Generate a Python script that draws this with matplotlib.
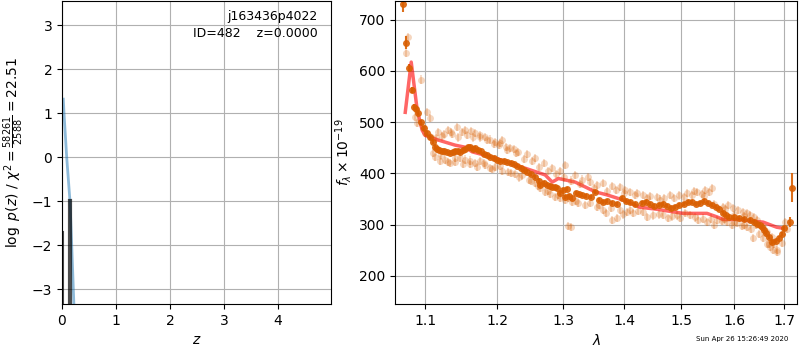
import numpy as np
import matplotlib.pyplot as plt

# left panel: log p(z) curve and chi2 line
z_line = [0.024, 0.037, 0.087, 0.148, 0.18, 0.22]
logp_line = [1.32, 1.0, 0.0, -1.0, -2.0, -3.34]
z_bars = [0.01, 0.155]
bar_top = [-1.7, -1.0]

obj_name = 'j163436p4022'
obj_info = 'ID=482    z=0.0000'

# right panel: binned spectrum (dark), individual pixels (light), model
lam_bin = [1.071, 1.0745, 1.079, 1.082, 1.085, 1.088, 1.091, 1.094, 1.098, 1.103,
           1.110, 1.116, 1.122, 1.130, 1.138, 1.145, 1.152, 1.159, 1.166, 1.173,
           1.181, 1.190, 1.200, 1.210, 1.220, 1.230, 1.240, 1.250, 1.257, 1.265,
           1.270, 1.280, 1.283, 1.290, 1.300, 1.3034, 1.310, 1.320, 1.330, 1.345,
           1.352, 1.365, 1.380, 1.397, 1.41, 1.43, 1.445, 1.46, 1.475, 1.49,
           1.505, 1.52, 1.535, 1.55, 1.565, 1.578, 1.59, 1.61, 1.63, 1.645,
           1.655, 1.663, 1.676, 1.69, 1.700, 1.713, 1.716,
           1.106, 1.113, 1.119, 1.126, 1.134, 1.141, 1.148, 1.155, 1.162, 1.169,
           1.177, 1.185, 1.195, 1.205, 1.215, 1.225, 1.235, 1.245, 1.262, 1.275,
           1.287, 1.295, 1.306, 1.315, 1.325, 1.337, 1.358, 1.372, 1.388, 1.403,
           1.418, 1.437, 1.452, 1.467, 1.482, 1.497, 1.512, 1.527, 1.542, 1.557,
           1.571, 1.584, 1.600, 1.620, 1.638, 1.650, 1.659, 1.668, 1.683, 1.695]
flux_bin = [730, 655, 605, 563, 530, 525, 518, 500, 488, 478,
            462, 447, 444, 442, 441, 443, 446, 451, 448, 446,
            438, 432, 426, 424, 420, 415, 406, 398, 393, 377,
            381, 376, 373, 372, 368, 354, 356, 362, 358, 354,
            363, 344, 342, 352, 345, 342, 340, 338, 336, 334,
            340, 344, 342, 342, 335, 322, 315, 313, 309, 302,
            296, 284, 266, 274, 293, 305, 372,
            470, 452, 445, 443, 440, 444, 442, 447, 452, 449,
            444, 436, 429, 425, 422, 418, 411, 402, 386, 378,
            374, 362, 370, 352, 360, 356, 348, 346, 340, 347,
            341, 344, 336, 341, 333, 338, 345, 340, 346, 339,
            330, 318, 314, 311, 306, 299, 290, 276, 268, 282]
err_bin = [15, 12, 8, 6, 5, 5, 5, 5, 5, 5] + [4] * 54 + [5, 9, 28] + [4] * 50

lam_pix = [1.0750, 1.0776, 1.0947, 1.0867, 1.0894, 1.1067, 1.1027, 1.0973, 1.1000, 1.1080,
           1.1175, 1.1230, 1.1311, 1.1370, 1.1435, 1.1500, 1.1574, 1.1630, 1.1687, 1.1760,
           1.1830, 1.1900, 1.1974, 1.2030, 1.2076, 1.2130, 1.2194, 1.2250, 1.2312, 1.2440,
           1.2569, 1.2700, 1.2832, 1.2950, 1.3034, 1.3193, 1.3300, 1.3403,
           1.1134, 1.1200, 1.1270, 1.1340, 1.1407, 1.1480, 1.1546, 1.1620, 1.1687, 1.1760,
           1.1830, 1.1900, 1.1974, 1.2080, 1.2164, 1.2260, 1.2372, 1.2470, 1.2569, 1.2650,
           1.2722, 1.2800, 1.2877, 1.2950, 1.3034, 1.3140, 1.3241,
           1.3436, 1.3540, 1.3649, 1.3800, 1.3933, 1.4020, 1.4103, 1.4220, 1.4327, 1.4450,
           1.4572, 1.4690, 1.4804, 1.4960, 1.5112, 1.5200, 1.5296, 1.5380, 1.5445, 1.5510,
           1.5576, 1.5786, 1.5880, 1.5978, 1.6080, 1.6173, 1.6250, 1.6311, 1.6380, 1.6450,
           1.6570, 1.6650, 1.6752, 1.6800, 1.6854, 1.6957, 1.7018, 1.7050,
           1.3436, 1.3540, 1.3649, 1.3780, 1.3933, 1.4050, 1.4155, 1.4240, 1.4327, 1.4500,
           1.4678, 1.4830, 1.4984, 1.5080, 1.5167, 1.5320, 1.5481, 1.5560, 1.5671, 1.5760,
           1.5863, 1.5960, 1.6056, 1.6150, 1.6252, 1.6370, 1.6570, 1.6640, 1.6711, 1.6780,
           1.6854, 1.3798, 1.3882, 1.3082, 1.3120,
           1.1150, 1.1250, 1.1350, 1.1450, 1.1550, 1.1650, 1.1750, 1.1850, 1.1950, 1.2050,
           1.2150, 1.2280, 1.2400, 1.2520, 1.2630, 1.2760, 1.2890, 1.3010, 1.3120, 1.3270,
           1.1110, 1.1210, 1.1310, 1.1410, 1.1510, 1.1610, 1.1710, 1.1810, 1.1930, 1.2040,
           1.2200, 1.2330, 1.2500, 1.2610, 1.2760, 1.2920, 1.3080, 1.3200, 1.3350,
           1.3500, 1.3720, 1.3870, 1.4000, 1.4180, 1.4400, 1.4630, 1.4880, 1.5050, 1.5240,
           1.5420, 1.5620, 1.5820, 1.6000, 1.6200, 1.6420, 1.6620, 1.6720,
           1.3580, 1.3700, 1.3980, 1.4100, 1.4400, 1.4600, 1.4770, 1.4920, 1.5250, 1.5400,
           1.5620, 1.5800, 1.6000, 1.6200, 1.6330, 1.6490, 1.6690]
flux_pix = [634, 665, 583, 510, 498, 508, 519, 490, 478, 470,
            480, 472, 484, 476, 490, 481, 475, 483, 479, 470,
            471, 466, 461, 455, 465, 452, 449, 447, 442, 437,
            430, 420, 410, 404, 416, 397, 388, 393,
            432, 425, 427, 420, 422, 430, 427, 418, 420, 424,
            416, 410, 412, 405, 402, 398, 396, 388, 381, 372,
            364, 360, 354, 352, 348, 344, 342,
            383, 377, 381, 376, 373, 368, 364, 361, 358, 356,
            354, 352, 358, 357, 361, 357, 364, 360, 367, 363,
            371, 334, 338, 332, 328, 325, 322, 319, 314, 309,
            295, 285, 276, 262, 250, 264, 305, 292,
            342, 335, 328, 332, 328, 324, 322, 327, 325, 318,
            319, 316, 313, 322, 319, 310, 305, 312, 309, 307,
            305, 300, 303, 298, 296, 274, 274, 262, 256, 250,
            246, 309, 313, 298, 296,
            468, 476, 480, 470, 485, 470, 474, 465, 457, 459,
            445, 440, 428, 424, 412, 405, 398, 392, 386, 380,
            440, 435, 422, 430, 418, 425, 413, 420, 408, 414,
            400, 392, 386, 376, 366, 358, 352, 346, 338,
            372, 366, 368, 362, 358, 352, 349, 352, 354, 366,
            356, 340, 330, 318, 316, 300, 283, 268,
            338, 322, 320, 328, 315, 320, 313, 318, 314, 312,
            300, 312, 306, 300, 292, 282, 262]

lam_model = [1.0737, 1.0815, 1.0894, 1.0960, 1.1000, 1.1175, 1.1407, 1.1546, 1.1645, 1.1974,
             1.2372, 1.2722, 1.2832, 1.2928, 1.3194, 1.3519, 1.3715, 1.3984, 1.4274, 1.4572,
             1.4857, 1.5039, 1.5481, 1.5672, 1.5786, 1.6115, 1.6312, 1.6570, 1.6846, 1.6976]
flux_model = [519, 617, 523, 484, 474, 465, 455, 451, 442, 430,
              412, 397, 383, 390, 383, 364, 358, 348, 334, 330,
              325, 322, 322, 315, 310, 310, 307, 305, 295, 293]

lam_ticks = [1.1, 1.2, 1.3, 1.4, 1.5, 1.6, 1.7]

orange = '#d95f02'

fig = plt.figure(figsize=(8, 3.5), dpi=100)

ax1 = fig.add_axes([0.0775, 0.131, 0.336, 0.866])
ax1.plot(z_line, logp_line, color='#1f77b4', alpha=0.5, lw=2)
for zb, top in zip(z_bars, bar_top):
    ax1.plot([zb, zb], [-3.5, top], color='k', alpha=0.7, lw=3 if zb > 0.05 else 1.5)
ax1.set_xlim(0, 4.98)
ax1.set_ylim(-3.34, 3.55)
ax1.set_xticks([0, 1, 2, 3, 4])
ax1.set_yticks([-3, -2, -1, 0, 1, 2, 3])
ax1.grid()
ax1.text(0.95, 0.97, obj_name, transform=ax1.transAxes, ha='right', va='top', fontsize=9)
ax1.text(0.95, 0.915, obj_info, transform=ax1.transAxes, ha='right', va='top', fontsize=9)
ax1.set_xlabel(r'$z$')
ax1.set_ylabel(r'$\log\ p(z)$ / $\chi^2=\frac{58261}{2588}=22.51$')

ax2 = fig.add_axes([0.494, 0.131, 0.5025, 0.866])
ax2.errorbar(lam_pix, flux_pix, yerr=8, fmt='o', color=orange, alpha=0.25,
             ms=5, mew=0, elinewidth=1.2)
ax2.errorbar(lam_bin, flux_bin, yerr=err_bin, fmt='o', color=orange, alpha=0.9,
             ms=5, mew=0, elinewidth=1.5)
ax2.plot(lam_model, flux_model, color='r', alpha=0.6, lw=2.5)
ax2.set_xscale('log')
ax2.set_xticks(lam_ticks)
ax2.set_xticklabels(['%.1f' % t for t in lam_ticks])
ax2.xaxis.set_minor_locator(plt.NullLocator())
ax2.set_xlim(1.0607, 1.727)
ax2.set_ylim(145, 736)
ax2.grid()
ax2.set_xlabel(r'$\lambda$')
ax2.set_ylabel(r'$f_\lambda\times10^{-19}$')

fig.text(0.985, 0.022, 'Sun Apr 26 15:26:49 2020', ha='right', va='bottom', fontsize=5)

fig.savefig('out.png', dpi=100)
